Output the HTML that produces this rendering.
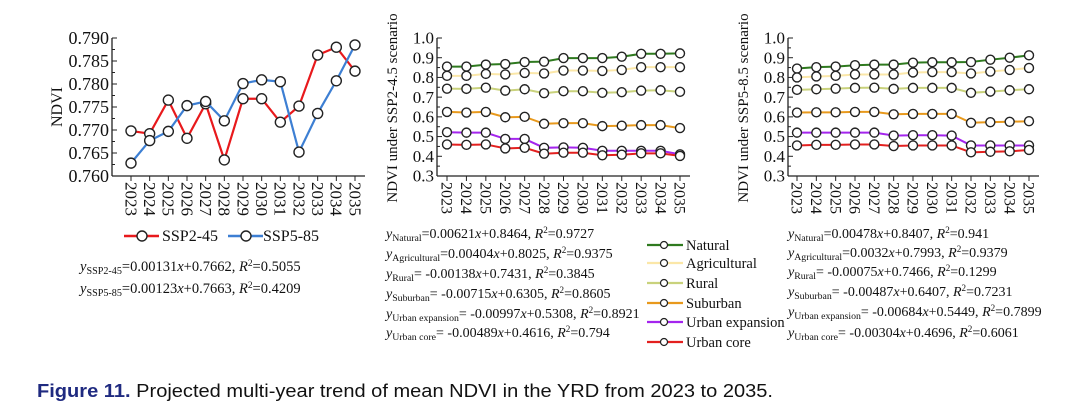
<!DOCTYPE html>
<html><head><meta charset="utf-8"><style>
body{margin:0;background:#fff;width:1080px;height:418px;overflow:hidden}
svg{display:block}
text{font-family:"Liberation Serif",serif;fill:#111}
.cap{font-family:"Liberation Sans",sans-serif}
</style></head><body>
<svg id="s" width="1080" height="418" viewBox="0 0 1080 418" xmlns="http://www.w3.org/2000/svg">
<text class="cap" x="37" y="397" font-size="18" textLength="736" lengthAdjust="spacingAndGlyphs"><tspan font-weight="bold" style="fill:#1f2a80">Figure 11.</tspan> Projected multi-year trend of mean NDVI in the YRD from 2023 to 2035.</text>
</svg>
<script>
const years=["2023","2024","2025","2026","2027","2028","2029","2030","2031","2032","2033","2034","2035"];
const ssp245=[0.7698,0.7692,0.7765,0.7682,0.7757,0.7635,0.7768,0.7768,0.7717,0.7752,0.7863,0.7880,0.7828];
const ssp585=[0.7628,0.7677,0.7697,0.7753,0.7762,0.7720,0.7801,0.7809,0.7805,0.7652,0.7736,0.7807,0.7885];
const ticks1=["0.760","0.765","0.770","0.775","0.780","0.785","0.790"];
const ticks2=["0.3","0.4","0.5","0.6","0.7","0.8","0.9","1.0"];
const classNames=["Natural","Agricultural","Rural","Suburban","Urban expansion","Urban core"];
const a_nat=[.855,.855,.865,.868,.878,.88,.898,.898,.898,.905,.92,.92,.922];
const a_agr=[.808,.808,.818,.815,.823,.82,.835,.835,.833,.838,.852,.852,.852];
const a_rur=[.743,.742,.748,.733,.74,.72,.73,.73,.722,.725,.733,.735,.727];
const a_sub=[.625,.622,.625,.598,.6,.565,.568,.568,.553,.555,.558,.558,.543];
const a_uex=[.522,.52,.52,.488,.488,.443,.445,.443,.428,.428,.428,.428,.41];
const a_uco=[.46,.458,.46,.44,.443,.413,.418,.418,.405,.408,.415,.415,.402];
const b_nat=[.845,.852,.855,.862,.865,.865,.875,.877,.877,.878,.89,.9,.912];
const b_agr=[.8,.805,.808,.815,.815,.815,.825,.827,.827,.82,.83,.838,.848];
const b_rur=[.737,.74,.743,.747,.748,.742,.747,.747,.747,.722,.728,.735,.74];
const b_sub=[.622,.623,.623,.625,.625,.613,.615,.615,.615,.57,.573,.575,.578];
const b_uex=[.52,.52,.52,.52,.52,.505,.507,.507,.505,.455,.455,.455,.455];
const b_uco=[.455,.458,.458,.46,.46,.452,.455,.455,.455,.42,.423,.425,.432];
const colors=["#2f7a1f","#fbe7a8","#c9d27c","#e8991c","#a425ee","#e3201f"];
const eqA=[["Natural","=0.00621","+0.8464, ","=0.9727"],["Agricultural","=0.00404","+0.8025, ","=0.9375"],["Rural","= -0.00138","+0.7431, ","=0.3845"],["Suburban","= -0.00715","+0.6305, ","=0.8605"],["Urban expansion","= -0.00997","+0.5308, ","=0.8921"],["Urban core","= -0.00489","+0.4616, ","=0.794"]];
const eqB=[["Natural","=0.00478","+0.8407, ","=0.941"],["Agricultural","=0.0032","+0.7993, ","=0.9379"],["Rural","= -0.00075","+0.7466, ","=0.1299"],["Suburban","= -0.00487","+0.6407, ","=0.7231"],["Urban expansion","= -0.00684","+0.5449, ","=0.7899"],["Urban core","= -0.00304","+0.4696, ","=0.6061"]];
const NS="http://www.w3.org/2000/svg",S=document.getElementById('s');
function el(t,a,p){const e=document.createElementNS(NS,t);for(const k in a)e.setAttribute(k,a[k]);(p||S).appendChild(e);return e;}
function chart(o){
 const g=el('g',{});
 
 
 const xs=i=>o.x0+(o.x1-o.x0)*i/(years.length-1);
 const ys=v=>o.yb-(v-o.vmin)/(o.vmax-o.vmin)*(o.yb-o.yt);
 el('line',{x1:o.ax,y1:o.yt,x2:o.ax,y2:o.yb,stroke:'#222','stroke-width':1.3},g);
 el('line',{x1:o.ax,y1:o.yb,x2:o.x1+10,y2:o.yb,stroke:'#222','stroke-width':1.3},g);
 o.ticks.forEach((t,i)=>{const y=ys(+t);
  el('line',{x1:o.ax,y1:y,x2:o.ax+5,y2:y,stroke:'#222'},g);
  if(i<o.ticks.length-1){const ym=ys((+t+ +o.ticks[i+1])/2);el('line',{x1:o.ax,y1:ym,x2:o.ax+3,y2:ym,stroke:'#222'},g);}
  const tx=el('text',{x:o.ax-3,y:y+o.fs*0.33,'text-anchor':'end','font-size':o.fs},g);tx.textContent=t;
  
  });
 years.forEach((yr,i)=>{const x=xs(i);
  el('line',{x1:x,y1:o.yb,x2:x,y2:o.yb+5,stroke:'#222'},g);
  const tx=el('text',{x:0,y:0,'font-size':o.yfs,transform:`translate(${x-o.yfs*0.33},${o.yb+6}) rotate(90)`},g);tx.textContent=yr;
  
  });
 const tt=el('text',{x:0,y:0,'font-size':o.tfs,'text-anchor':'middle',transform:`translate(${o.tx},${o.tyc}) rotate(-90)`},g);tt.textContent=o.title;
 
 
 o.series.forEach((s,k)=>{
  const sg=el('g',{},g);
  
  
  el('polyline',{points:s.map((v,i)=>xs(i)+','+ys(v)).join(' '),fill:'none',stroke:o.colors[k],'stroke-width':o.lw},sg);
  s.forEach((v,i)=>{const c=el('circle',{cx:xs(i),cy:ys(v),r:o.r,fill:'#fff',stroke:'#222','stroke-width':1.4},sg);
   
   });
 });
}
chart({name:'chart-overall-ndvi',ax:112,x0:131,x1:355,yt:38,yb:176,vmin:0.76,vmax:0.79,ticks:ticks1,fs:18,yfs:17,tfs:16,tx:62,tyc:107,title:'NDVI',series:[ssp245,ssp585],labels:['SSP2-45','SSP5-85'],colors:['#e8191c','#3d7fd3'],lw:2.2,r:5});
chart({name:'chart-ssp245-classes',ax:437,x0:447,x1:680,yt:38,yb:176,vmin:0.3,vmax:1.0,ticks:ticks2,fs:17,yfs:16,tfs:15,tx:397,tyc:108,title:'NDVI under SSP2-4.5 scenario',series:[a_nat,a_agr,a_rur,a_sub,a_uex,a_uco],labels:classNames,colors:colors,lw:2,r:4.5});
chart({name:'chart-ssp585-classes',ax:788,x0:797,x1:1029,yt:38,yb:176,vmin:0.3,vmax:1.0,ticks:ticks2,fs:17,yfs:16,tfs:15,tx:748,tyc:108,title:'NDVI under SSP5-8.5 scenario',series:[b_nat,b_agr,b_rur,b_sub,b_uex,b_uco],labels:classNames,colors:colors,lw:2,r:4.5});
[['SSP2-45','#e8191c',124,162],['SSP5-85','#3d7fd3',228,263]].forEach(l=>{
 const g=el('g',{});
 el('line',{x1:l[2],y1:236,x2:l[2]+35,y2:236,stroke:l[1],'stroke-width':2.5},g);
 el('circle',{cx:l[2]+18,cy:236,r:5,fill:'#fff',stroke:'#222','stroke-width':1.4},g);
 const t=el('text',{x:l[3],y:241,'font-size':16},g);t.textContent=l[0];});
function eq(x,y,sub,a,b,r,fs){const t=el('text',{x:x,y:y,'font-size':fs});
 
 
 t.innerHTML=`<tspan font-style="italic">y</tspan><tspan font-size="${fs*0.7}" dy="3">${sub}</tspan><tspan dy="-3">${a}</tspan><tspan font-style="italic">x</tspan>${b}<tspan font-style="italic">R</tspan><tspan font-size="${fs*0.65}" dy="-5">2</tspan><tspan dy="5">${r}</tspan>`;}
eq(80,271,'SSP2-45','=0.00131','+0.7662, ','=0.5055',14.5);
eq(80,293,'SSP5-85','=0.00123','+0.7663, ','=0.4209',14.5);
const ya=[238,258,278,298,318,337],yb2=[238,257,276,296,316,337],yl=[245,263,283,303,322,342];
eqA.forEach((e,i)=>eq(386,ya[i],e[0],e[1],e[2],e[3],14));
eqB.forEach((e,i)=>eq(788,yb2[i],e[0],e[1],e[2],e[3],14));
classNames.forEach((n,i)=>{const g=el('g',{});
 el('line',{x1:647,y1:yl[i],x2:683,y2:yl[i],stroke:colors[i],'stroke-width':2.2},g);
 el('circle',{cx:664,cy:yl[i],r:3.5,fill:'#fff',stroke:'#222','stroke-width':1.2},g);
 const t=el('text',{x:686,y:yl[i]+5,'font-size':14.5},g);t.textContent=n;});
</script>
</body></html>
